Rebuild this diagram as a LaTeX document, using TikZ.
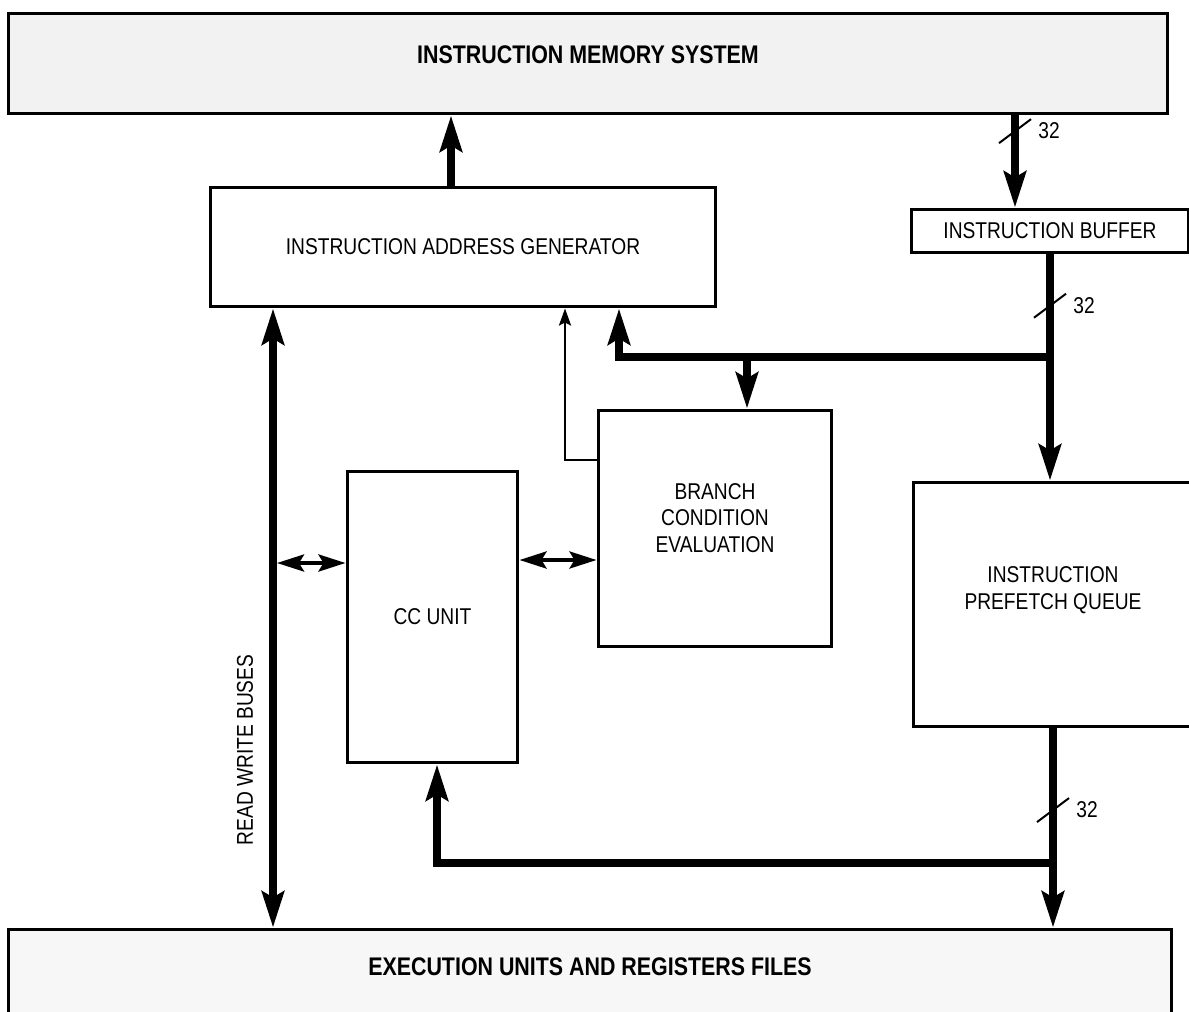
\documentclass[tikz,border=0pt]{standalone}
\usepackage{fontspec}
\setmainfont{Liberation Sans}[FakeStretch=0.84]
\usetikzlibrary{arrows.meta}
\tikzset{
  Big/.tip={Stealth[length=0.72cm, width=0.44cm, inset=0.12cm]},
  Mid/.tip={Stealth[length=0.54cm, width=0.34cm, inset=0.1cm]},
  Small/.tip={Stealth[length=0.34cm, width=0.24cm, inset=0.06cm]}
}
\begin{document}
\begin{tikzpicture}[x=0.02cm, y=-0.02cm,
    txt/.style={font=\fontsize{13}{15}\selectfont},
    bigtxt/.style={font=\fontsize{14.5}{16.5}\selectfont\bfseries},
    blk/.style={draw, line width=0.06cm, inner sep=0pt, txt},
    bus/.style={line width=0.16cm},
    sig/.style={line width=0.05cm, -{Small}},
    dbl/.style={line width=0.08cm, {Mid}-{Mid}},
    tick/.style={line width=0.04cm},
    num/.style={anchor=west, inner sep=0pt, xshift=0.46cm, txt}]
  \useasboundingbox (0,0) rectangle (1189,1011);
  % blocks
  \node [blk, fill=black!5, minimum width=23.2cm, minimum height=2.02cm,
         label={[bigtxt, yshift=0.17cm]center:INSTRUCTION MEMORY SYSTEM}] (mem) at (588,63.5) {};
  \node [blk, minimum width=10.12cm, minimum height=2.4cm] (iag) at (463,247) {INSTRUCTION ADDRESS GENERATOR};
  \node [blk, minimum width=5.56cm, minimum height=0.86cm] (ib) at (1050,230.5) {INSTRUCTION BUFFER};
  \node [blk, minimum width=4.68cm, minimum height=4.74cm,
         label={[txt, align=center, yshift=0.21cm]center:BRANCH\\CONDITION\\EVALUATION}] (bce) at (715,528.5) {};
  \node [blk, minimum width=3.42cm, minimum height=5.84cm] (cc) at (432.5,617) {CC UNIT};
  \node [blk, minimum width=5.6cm, minimum height=4.9cm,
         label={[txt, align=center, yshift=0.29cm]center:INSTRUCTION\\PREFETCH QUEUE}] (ipq) at (1053,604.5) {};
  \node [blk, fill=black!3, minimum width=23.28cm, minimum height=2.02cm,
         label={[bigtxt, yshift=0.25cm]center:EXECUTION UNITS AND REGISTERS FILES}] (exec) at (590,979.5) {};
  % buses
  \draw [bus, -{Big}] (451,0 |- iag.north) -- (451,0 |- mem.south);
  \draw [bus, -{Big}] (1015,0 |- mem.south) -- coordinate[pos=0.17] (t1) (1015,0 |- ib.north);
  \draw [bus, -{Big}] (ib.south) -- coordinate[pos=0.23] (t2) (ib.south |- ipq.north);
  \coordinate (jn) at (ib.south |- 0,357);
  \draw [bus, -{Big}] (jn) -| (619,0 |- iag.south);
  \draw [bus, -{Big}] (747,0 |- jn) -- (747,0 |- bce.north);
  \draw [sig] (bce.west |- 0,460) -| (565,0 |- iag.south);
  \draw [bus, {Big}-{Big}] (273,0 |- iag.south) -- (273,0 |- exec.north);
  \node [txt, rotate=90] (rwb) at (245,750) {READ WRITE BUSES};
  \coordinate (rw) at (277,563);
  \draw [dbl] (rw) -- (cc.west |- rw);
  \draw [dbl] (cc.east |- 0,560) -- (bce.west |- 0,560);
  \draw [bus, -{Big}] (ipq.south) -- coordinate[pos=0.41] (t3) (ipq.south |- exec.north);
  \coordinate (jn2) at (ipq.south |- 0,863);
  \draw [bus, -{Big}] (jn2) -| (437,0 |- cc.south);
  % bus widths
  \foreach \t in {t1,t2,t3} {
    \draw [tick] ([shift={(-16,12)}]\t) -- ([shift={(16,-12)}]\t);
    \node [num] at (\t) {32};
  }
\end{tikzpicture}
\end{document}
